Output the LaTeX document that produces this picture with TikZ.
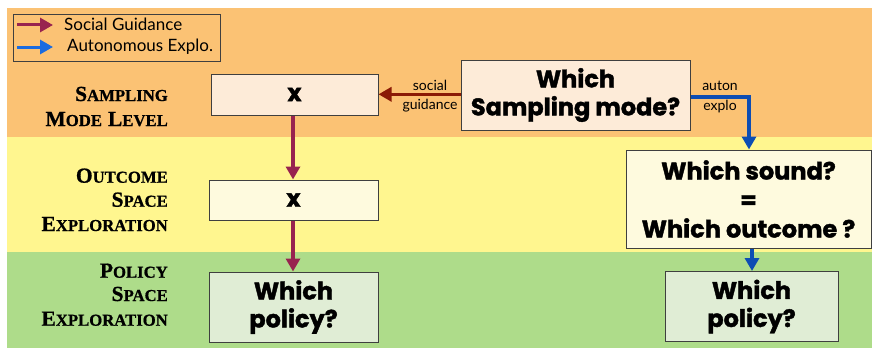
\documentclass[tikz,border=0pt]{standalone}
\usepackage{fontspec}
\setmainfont{Lato}
\newfontfamily\boxfont{Poppins}[BoldFeatures={FakeBold=1.6}]
\newfontfamily\labfont{Liberation Serif}[BoldFeatures={FakeBold=0.8}]
\usetikzlibrary{arrows.meta}
\definecolor{bandO}{HTML}{FBC274}
\definecolor{bandY}{HTML}{FFF68F}
\definecolor{bandG}{HTML}{AEDC8A}
\definecolor{fillO}{HTML}{FDEBD8}
\definecolor{fillY}{HTML}{FEFADE}
\definecolor{fillG}{HTML}{E0EDD5}
\definecolor{socC}{HTML}{98234F}
\definecolor{socH}{HTML}{8B1A05}
\definecolor{autC}{HTML}{0D4DB3}
\definecolor{autL}{HTML}{1A6BE0}
\definecolor{edge}{HTML}{3F3F3F}
\newcommand{\SCl}[2]{{\fontsize{21.5}{23}\selectfont #1}{\fontsize{16.7}{19}\selectfont #2}}
\tikzset{
  x=1pt,y=1pt,
  qbox/.style={draw=edge,line width=1pt,inner sep=0pt,align=center,
    font=\boxfont\bfseries\fontsize{24}{28}\selectfont},
  lab/.style={anchor=base east,inner sep=0pt,font=\labfont\bfseries},
  small/.style={inner sep=0pt,font=\fontsize{14}{19.5}\selectfont,align=center},
  arr/.style={line width=3.3pt,-{Triangle[length=13pt,width=14pt]}},
}
\begin{document}
\begin{tikzpicture}
\useasboundingbox (0,0) rectangle (872,349);
% bands
\fill[bandO] (7,212) rectangle (872,341);
\fill[bandY] (7,97) rectangle (872,212);
\fill[bandG] (7,1) rectangle (872,97);
% legend
\node[draw=edge,line width=1pt,minimum width=207pt,minimum height=46pt,inner sep=0pt] (leg) at (116.5,311) {};
\coordinate (l1a) at (17,324); \coordinate (l1b) at (53,324);
\coordinate (l2a) at (17,302); \coordinate (l2b) at (53,302);
\draw[arr,socC,line width=3pt] (l1a) -- (l1b);
\draw[arr,autL,line width=3pt] (l2a) -- (l2b);
\node[anchor=west,inner sep=0pt,font=\fontsize{17}{19}\selectfont] (t1) at (64,324.5) {Social Guidance};
\node[anchor=west,inner sep=0pt,font=\fontsize{17}{19}\selectfont] (t2) at (67,302.5) {Autonomous Explo.};
% left labels
\node[lab] (la1) at (168,248) {\SCl{S}{AMPLING}};
\node[lab] (la2) at (168,223) {\SCl{M}{ODE}\hspace{6pt}\SCl{L}{EVEL}};
\node[lab] (lb1) at (168,166.3) {\SCl{O}{UTCOME}};
\node[lab] (lb2) at (168,142.3) {\SCl{S}{PACE}};
\node[lab] (lb3) at (168,118) {\SCl{E}{XPLORATION}};
\node[lab] (lc1) at (168,71.3) {\SCl{P}{OLICY}};
\node[lab] (lc2) at (168,48) {\SCl{S}{PACE}};
\node[lab] (lc3) at (168,23.3) {\SCl{E}{XPLORATION}};
% boxes
\node[qbox,fill=fillO,minimum width=167pt,minimum height=41pt] (b1) at (294.5,254.5) {x};
\node[qbox,fill=fillO,minimum width=229pt,minimum height=70pt] (sm) at (575.5,254) {Which\\Sampling mode?};
\node[qbox,fill=fillY,minimum width=169pt,minimum height=40pt] (b2) at (293.5,149) {x};
\node[qbox,fill=fillG,minimum width=169pt,minimum height=70pt] (p1) at (293.5,42) {Which\\policy?};
\node[qbox,fill=fillY,minimum width=245pt,minimum height=98pt,font=\boxfont\bfseries\fontsize{24}{29}\selectfont] (snd) at (748.5,150) {Which sound?\\=\\Which outcome ?};
\node[qbox,fill=fillG,minimum width=173pt,minimum height=70pt] (p2) at (751.5,42.5) {Which\\policy?};
% connectors
\draw[arr,socH] (sm.west |- 0,254.7) -- (b1.east |- 0,254.7);
\node[small] (sg) at (430,253) {social\\guidance};
\draw[arr,autC] (sm.east |- 0,252) -| (snd.north -| 749,0);
\node[small] (ae) at (720,252) {auton\\explo};
\draw[arr,socC] (b1.south -| 293,0) -- (b2.north -| 293,0);
\draw[arr,socC] (b2.south -| 293,0) -- (p1.north -| 293,0);
\draw[arr,autC] (snd.south -| 752,0) -- (p2.north -| 752,0);
\end{tikzpicture}
\end{document}
